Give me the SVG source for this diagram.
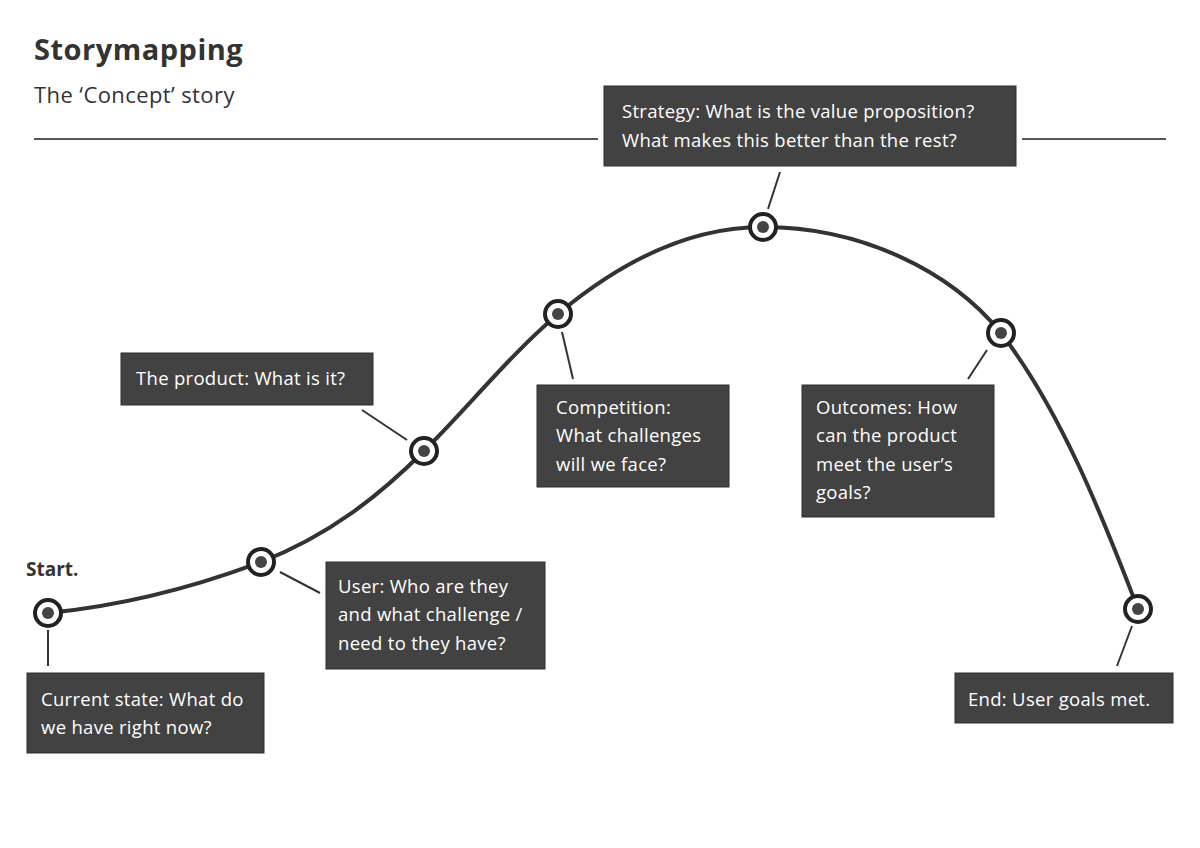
<svg xmlns="http://www.w3.org/2000/svg" width="1200" height="848" viewBox="0 0 1200 848">
<style>
text{font-family:"Open Sans",Lato,sans-serif}
.box rect{fill:#424242;stroke:#2e2e2e;stroke-width:1}
.box text{fill:#fff;font-size:18.5px;letter-spacing:0.3px}
.conn line{stroke:#333;stroke-width:2}
.curve{fill:none;stroke:#333;stroke-width:4}
.pt .o{fill:#fff;stroke:#222;stroke-width:4}
.pt .i{fill:#444}
</style>
<rect width="1200" height="848" fill="#fff"/>
<text x="34" y="60" font-size="29" font-weight="bold" fill="#333" letter-spacing="0.5">Storymapping</text>
<text x="34" y="103" font-size="22" fill="#333" letter-spacing="0.4">The ‘Concept’ story</text>
<line x1="34" y1="139" x2="598" y2="139" stroke="#222" stroke-width="1.5"/>
<line x1="1022" y1="139" x2="1166" y2="139" stroke="#222" stroke-width="1.5"/>
<text x="26" y="576" font-size="19" font-weight="bold" fill="#333">Start.</text>
<g id="connectors" class="conn">
<path class="curve" d="M48,613 C130,605 200,585 261,562 C330,535 380,495 424,451 C470,405 510,355 558,314 C620,262 690,227 763,227 C860,227 950,270 1001,333 C1060,410 1100,510 1138,609"/>
<line x1="780" y1="172" x2="768" y2="209"/>
<line x1="362" y1="410" x2="407" y2="440"/>
<line x1="562" y1="332" x2="573" y2="379"/>
<line x1="987" y1="350" x2="968" y2="379"/>
<line x1="280" y1="572" x2="320" y2="593"/>
<line x1="48" y1="630" x2="48" y2="666"/>
<line x1="1132" y1="626" x2="1117" y2="666"/>
</g>
<g class="pt">
<g id="p1"><circle class="o" cx="48" cy="613" r="13"/><circle class="i" cx="48" cy="613" r="6"/></g>
<g id="p2"><circle class="o" cx="261" cy="562" r="13"/><circle class="i" cx="261" cy="562" r="6"/></g>
<g id="p3"><circle class="o" cx="424" cy="451" r="13"/><circle class="i" cx="424" cy="451" r="6"/></g>
<g id="p4"><circle class="o" cx="558" cy="314" r="13"/><circle class="i" cx="558" cy="314" r="6"/></g>
<g id="p5"><circle class="o" cx="763" cy="227" r="13"/><circle class="i" cx="763" cy="227" r="6"/></g>
<g id="p6"><circle class="o" cx="1001" cy="333" r="13"/><circle class="i" cx="1001" cy="333" r="6"/></g>
<g id="p7"><circle class="o" cx="1138" cy="609" r="13"/><circle class="i" cx="1138" cy="609" r="6"/></g>
</g>
<g id="strategy" class="box"><rect x="604" y="86" width="412" height="80"/><text x="622" y="118">Strategy: What is the value proposition?</text><text x="622" y="147">What makes this better than the rest?</text></g>
<g id="product" class="box"><rect x="121" y="353" width="252" height="52"/><text x="136" y="385">The product: What is it?</text></g>
<g id="competition" class="box"><rect x="537" y="385" width="192" height="102"/><text x="556" y="414">Competition:</text><text x="556" y="442">What challenges</text><text x="556" y="471">will we face?</text></g>
<g id="outcomes" class="box"><rect x="802" y="385" width="192" height="132"/><text x="816" y="414">Outcomes: How</text><text x="816" y="442">can the product</text><text x="816" y="471">meet the user’s</text><text x="816" y="499">goals?</text></g>
<g id="user" class="box"><rect x="326" y="562" width="219" height="107"/><text x="338" y="593">User: Who are they</text><text x="338" y="621">and what challenge /</text><text x="338" y="650">need to they have?</text></g>
<g id="current" class="box"><rect x="27" y="673" width="237" height="80"/><text x="41" y="706">Current state: What do</text><text x="41" y="734">we have right now?</text></g>
<g id="end" class="box"><rect x="955" y="673" width="218" height="50"/><text x="968" y="706">End: User goals met.</text></g>
</svg>
